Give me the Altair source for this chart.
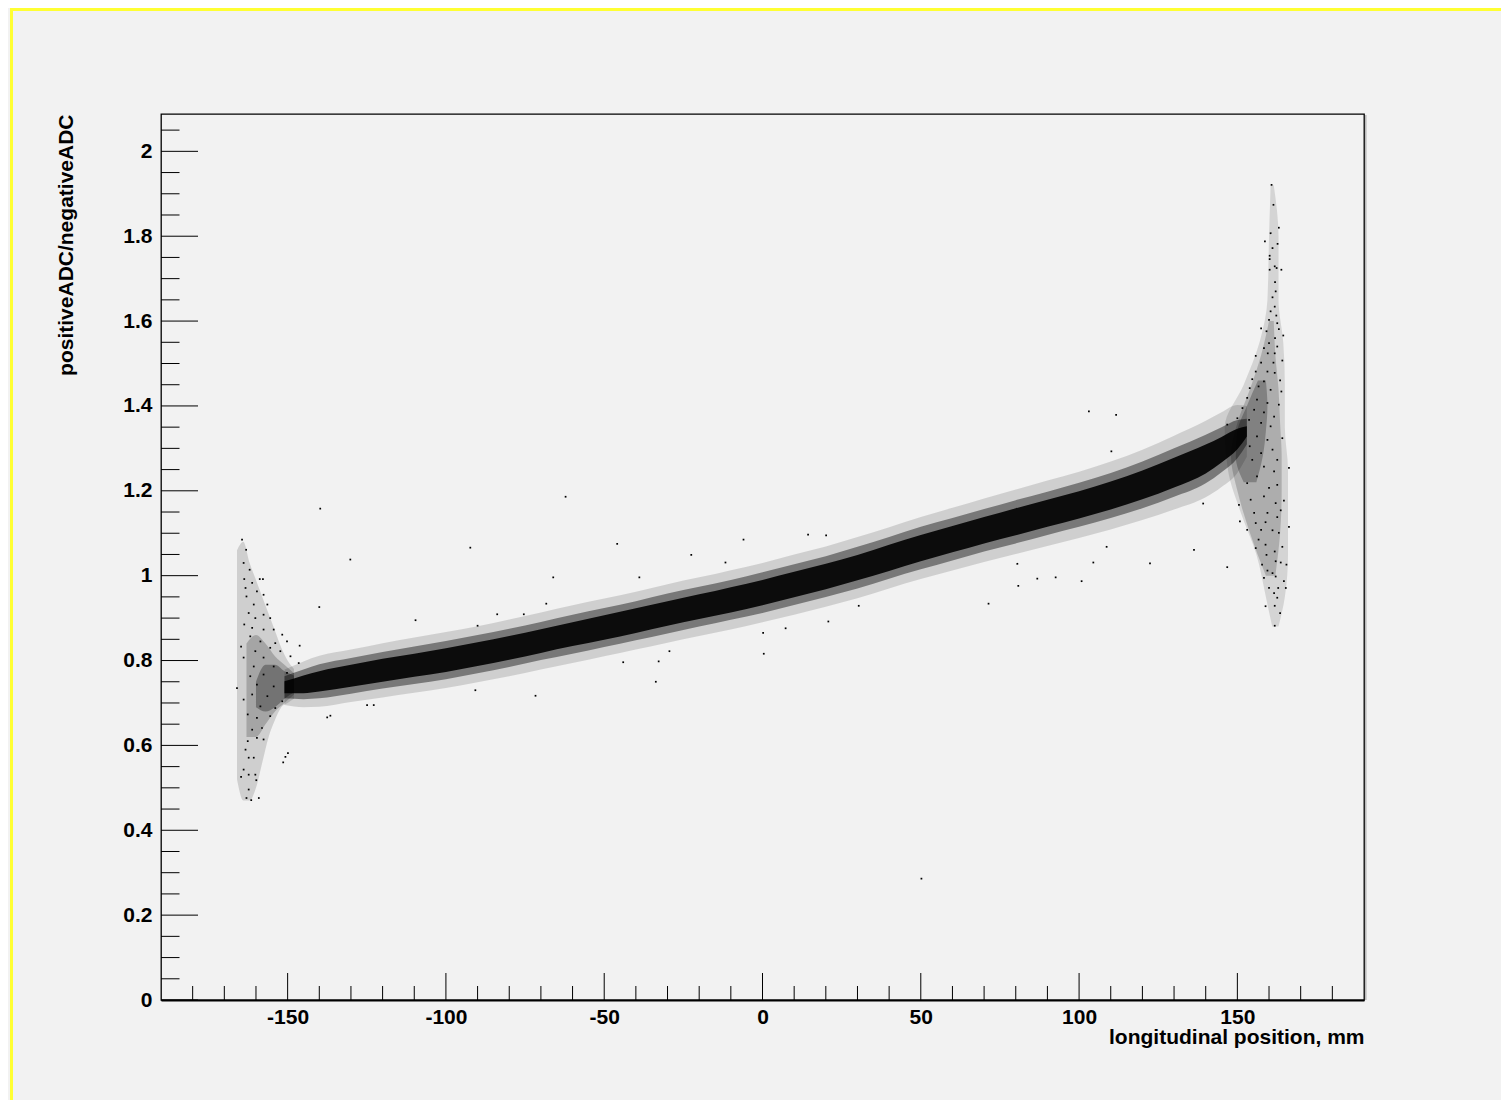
import altair as alt
import pandas as pd

# ---------------- data ----------------
# dense band: centre and half-widths (core / mid / halo) along x
band_x = [-151, -145, -140, -130, -120, -110, -100, -90, -80, -70, -60, -50, -40, -30, -20, -10,
          0, 10, 20, 30, 40, 50, 60, 70, 80, 90, 100, 110, 120, 130, 140, 145, 150, 153]
band_center = [0.737, 0.744, 0.751, 0.764, 0.777, 0.789, 0.801, 0.815, 0.830, 0.846, 0.862, 0.878,
               0.894, 0.911, 0.927, 0.943, 0.960, 0.979, 0.998, 1.019, 1.042, 1.065, 1.086, 1.107,
               1.127, 1.147, 1.167, 1.189, 1.214, 1.243, 1.275, 1.297, 1.322, 1.340]
band_core = [0.014, 0.021, 0.024, 0.026, 0.027, 0.027, 0.028, 0.028, 0.028, 0.028, 0.028, 0.029,
             0.029, 0.029, 0.029, 0.030, 0.030, 0.030, 0.030, 0.030, 0.031, 0.031, 0.031, 0.031,
             0.032, 0.032, 0.032, 0.033, 0.034, 0.035, 0.034, 0.030, 0.024, 0.012]
band_mid = [0.026, 0.035, 0.040, 0.042, 0.043, 0.044, 0.045, 0.045, 0.045, 0.045, 0.046, 0.046,
            0.046, 0.047, 0.047, 0.047, 0.048, 0.048, 0.048, 0.049, 0.049, 0.050, 0.050, 0.050,
            0.051, 0.051, 0.052, 0.053, 0.055, 0.057, 0.057, 0.053, 0.045, 0.030]
band_halo = [0.042, 0.054, 0.060, 0.062, 0.064, 0.065, 0.066, 0.066, 0.067, 0.067, 0.068, 0.068,
             0.068, 0.069, 0.069, 0.070, 0.070, 0.071, 0.071, 0.072, 0.072, 0.073, 0.074, 0.075,
             0.076, 0.077, 0.078, 0.080, 0.083, 0.087, 0.090, 0.088, 0.080, 0.060]

# left end fan (envelope along x)
lfan_x = [-166, -164, -162, -160, -158, -156, -154, -152, -150, -148]
lfan_lo = [0.52, 0.47, 0.47, 0.50, 0.56, 0.62, 0.66, 0.69, 0.70, 0.71]
lfan_hi = [1.06, 1.08, 1.03, 0.99, 0.95, 0.91, 0.87, 0.83, 0.80, 0.78]
lfan_dense_x = [-163, -160, -157, -154, -151, -148]
lfan_dense_lo = [0.62, 0.62, 0.65, 0.68, 0.70, 0.72]
lfan_dense_hi = [0.84, 0.86, 0.84, 0.81, 0.79, 0.77]
lfan_core_x = [-160, -157, -154, -151, -148]
lfan_core_lo = [0.69, 0.68, 0.69, 0.71, 0.725]
lfan_core_hi = [0.75, 0.79, 0.79, 0.775, 0.765]

# right end fan (envelope along y)
rfan_y = [0.88, 0.95, 1.05, 1.15, 1.25, 1.35, 1.45, 1.55, 1.65, 1.80, 1.92]
rfan_xlo = [161.0, 159.0, 156.0, 151.0, 147.0, 146.0, 152.0, 157.0, 159.5, 160.0, 160.5]
rfan_xhi = [163.0, 165.0, 166.0, 166.0, 166.0, 165.0, 165.0, 164.5, 163.0, 163.0, 161.5]
rfan_dense_y = [1.00, 1.10, 1.20, 1.28, 1.36, 1.44, 1.52, 1.60]
rfan_dense_xlo = [159.0, 154.0, 150.0, 148.0, 150.0, 154.0, 157.5, 160.0]
rfan_dense_xhi = [162.0, 163.5, 164.0, 164.0, 163.5, 163.0, 162.0, 161.5]
rfan_core_y = [1.22, 1.28, 1.34, 1.40, 1.46]
rfan_core_xlo = [152.0, 149.5, 150.0, 153.0, 156.5]
rfan_core_xhi = [156.0, 158.0, 159.0, 159.5, 159.0]

# individual points (outliers and sparse fan points)
out_x = [-139.7, -130.2, -140.0, -92.3, -62.2, -45.9, -22.5, -6.0, 14.4, 20.1, -11.7, -38.9, 0.4,
         7.3, 20.8, 30.4, -44.0, -32.8, 0.2, 50.2, 103.1, 111.7, 110.2, 80.5, 80.8, 86.8, 92.6,
         100.8, 104.5, 122.4, 136.3, 146.8, 139.2, 108.7, 71.4, -33.7, -71.7, -150.7, -109.6,
         -83.8, -75.4, -90.0, -90.7, -124.9, -122.8, -137.5, -136.5, -166.0, -66.1, -68.3, -29.4,
         -146.2]
out_y = [1.158, 1.038, 0.926, 1.066, 1.186, 1.075, 1.049, 1.085, 1.097, 1.095, 1.031, 0.996, 0.816,
         0.876, 0.892, 0.929, 0.796, 0.798, 0.865, 0.286, 1.387, 1.379, 1.293, 1.028, 0.976, 0.993,
         0.996, 0.987, 1.031, 1.029, 1.061, 1.020, 1.170, 1.068, 0.934, 0.750, 0.717, 0.573, 0.895,
         0.909, 0.909, 0.882, 0.730, 0.695, 0.695, 0.666, 0.670, 0.735, 0.996, 0.934, 0.822, 0.835]

lf_x = [-164.4, -163.1, -163.9, -162.0, -163.7, -158.8, -157.8, -161.2, -163.3, -159.7, -163.0,
        -157.6, -160.7, -156.4, -162.3, -157.6, -155.5, -160.2, -161.2, -157.6, -154.4, -163.7,
        -161.8, -151.7, -158.6, -153.9, -164.7, -150.2, -160.2, -155.5, -152.3, -163.9, -157.6,
        -149.1, -160.7, -154.4, -146.5, -161.8, -157.6, -150.2, -159.7, -154.4, -161.2, -156.4,
        -163.9, -151.7, -158.6, -153.9, -162.6, -159.7, -155.5, -161.2, -158.1, -162.6, -159.7,
        -157.6, -163.3, -160.7, -162.3, -163.9, -160.2, -164.7, -162.3, -159.9, -162.3, -163.0,
        -161.5, -159.1, -149.9, -151.4]
lf_y = [1.085, 1.061, 1.030, 1.014, 0.992, 0.992, 0.992, 0.983, 0.971, 0.963, 0.951, 0.955, 0.932,
        0.932, 0.912, 0.908, 0.900, 0.900, 0.877, 0.873, 0.873, 0.885, 0.857, 0.861, 0.845, 0.841,
        0.833, 0.845, 0.822, 0.830, 0.822, 0.807, 0.807, 0.810, 0.786, 0.786, 0.794, 0.763, 0.767,
        0.771, 0.743, 0.739, 0.720, 0.716, 0.708, 0.704, 0.692, 0.688, 0.673, 0.665, 0.669, 0.637,
        0.641, 0.610, 0.618, 0.614, 0.590, 0.571, 0.571, 0.543, 0.531, 0.526, 0.531, 0.518, 0.496,
        0.476, 0.471, 0.476, 0.582, 0.560]

rf_x = [160.8, 161.4, 163.1, 160.5, 158.7, 162.7, 161.1, 160.2, 160.2, 161.8, 162.4, 163.9, 160.2,
        161.9, 162.1, 161.1, 161.8, 160.5, 162.3, 160.0, 162.6, 157.5, 163.1, 159.2, 164.5, 161.9,
        160.0, 158.4, 162.6, 159.6, 161.8, 155.8, 157.5, 164.2, 161.4, 155.8, 159.5, 161.8, 154.7,
        158.4, 163.5, 153.9, 156.7, 160.5, 163.9, 153.1, 156.2, 159.5, 163.1, 151.6, 155.3, 158.4,
        161.6, 150.0, 153.7, 157.5, 160.5, 146.8, 164.2, 156.2, 159.5, 161.1, 157.5, 153.9, 162.6,
        166.3, 158.4, 154.7, 161.6, 156.2, 153.1, 160.0, 162.6,
        164.7, 162.1, 158.4, 154.2, 150.5, 163.7, 159.5, 155.3, 150.8, 162.6, 155.8, 158.9, 166.3,
        153.1, 157.5, 161.1, 163.1, 156.7, 158.9, 164.2, 155.8, 161.8, 159.2, 157.8, 162.1, 163.7,
        165.5, 159.5, 161.1, 158.4, 162.1, 164.7, 160.0, 162.9, 165.3, 161.6, 162.6, 158.9, 161.8,
        163.5, 161.8]
rf_y = [1.921, 1.874, 1.820, 1.807, 1.788, 1.782, 1.772, 1.754, 1.746, 1.729, 1.725, 1.721, 1.721,
        1.692, 1.670, 1.656, 1.634, 1.623, 1.613, 1.603, 1.595, 1.583, 1.581, 1.576, 1.566, 1.560,
        1.548, 1.536, 1.540, 1.524, 1.524, 1.518, 1.502, 1.507, 1.502, 1.481, 1.481, 1.478, 1.463,
        1.458, 1.460, 1.442, 1.446, 1.438, 1.434, 1.419, 1.415, 1.407, 1.403, 1.395, 1.391, 1.385,
        1.375, 1.371, 1.367, 1.360, 1.352, 1.356, 1.324, 1.328, 1.320, 1.297, 1.289, 1.305, 1.273,
        1.254, 1.257, 1.273, 1.246, 1.234, 1.218, 1.207, 1.214,
        1.177, 1.171, 1.187, 1.179, 1.167, 1.154, 1.148, 1.148, 1.128, 1.138, 1.124, 1.126, 1.115,
        1.108, 1.108, 1.107, 1.101, 1.085, 1.073, 1.068, 1.065, 1.057, 1.049, 1.026, 1.034, 1.031,
        1.026, 1.012, 1.006, 0.995, 0.998, 0.987, 0.971, 0.971, 0.971, 0.959, 0.948, 0.928, 0.929,
        0.912, 0.882]

# axis ticks (ROOT style, drawn inward)
x_major = [-150, -100, -50, 0, 50, 100, 150]
x_minor = [-180, -170, -160, -140, -130, -120, -110, -90, -80, -70, -60, -40, -30, -20, -10,
           10, 20, 30, 40, 60, 70, 80, 90, 110, 120, 130, 140, 160, 170, 180]
y_major = [0, 0.2, 0.4, 0.6, 0.8, 1, 1.2, 1.4, 1.6, 1.8, 2]
y_minor = [0.05, 0.1, 0.15, 0.25, 0.3, 0.35, 0.45, 0.5, 0.55, 0.65, 0.7, 0.75, 0.85, 0.9, 0.95,
           1.05, 1.1, 1.15, 1.25, 1.3, 1.35, 1.45, 1.5, 1.55, 1.65, 1.7, 1.75, 1.85, 1.9, 1.95, 2.05]

# ---------------- chart ----------------
W, H = 1203, 886
FONT = "Liberation Sans"

band = pd.DataFrame({"x": band_x, "c": band_center, "core": band_core,
                     "mid": band_mid, "halo": band_halo})
for k in ["core", "mid", "halo"]:
    band[k + "_lo"] = band["c"] - band[k]
    band[k + "_hi"] = band["c"] + band[k]

xscale = alt.Scale(domain=[-190, 190], nice=False, zero=False)
yscale = alt.Scale(domain=[0, 2.088], nice=False, zero=False)

xaxis = alt.Axis(values=x_major, labelExpr="toString(datum.value)", ticks=False, grid=False,
                 domain=True, domainColor="black", domainWidth=2,
                 labelFont=FONT, labelFontSize=21, labelFontWeight="bold", labelColor="black",
                 labelPadding=6, labelFlush=False,
                 title="longitudinal position, mm", titleFont=FONT, titleFontSize=21,
                 titleFontWeight="bold", titleColor="black", titleAnchor="end",
                 titleAlign="right", titleBaseline="alphabetic", titleX=W, titleY=43)
yaxis = alt.Axis(values=y_major, labelExpr="toString(datum.value)", ticks=False, grid=False,
                 domain=False,
                 labelFont=FONT, labelFontSize=21, labelFontWeight="bold", labelColor="black",
                 labelPadding=9, labelFlush=False,
                 title="positiveADC/negativeADC", titleFont=FONT, titleFontSize=21,
                 titleFontWeight="bold", titleColor="black", titleAngle=270,
                 titleAlign="right", titleBaseline="alphabetic", titleX=-89, titleY=0)


def X(f):
    return alt.X(f, type="quantitative", scale=xscale, axis=xaxis)


def Y(f):
    return alt.Y(f, type="quantitative", scale=yscale, axis=yaxis)


def band_layer(k, op):
    return alt.Chart(band).mark_area(color="black", opacity=op, interpolate="monotone").encode(
        x=X("x"), y=Y(k + "_lo"), y2=k + "_hi")


def vfan(xs, lo, hi, op):
    df = pd.DataFrame({"x": xs, "lo": lo, "hi": hi})
    return alt.Chart(df).mark_area(color="black", opacity=op, interpolate="monotone").encode(
        x=X("x"), y=Y("lo"), y2="hi")


def hfan(ys, xlo, xhi, op):
    df = pd.DataFrame({"y": ys, "xlo": xlo, "xhi": xhi})
    return alt.Chart(df).mark_area(color="black", opacity=op, orient="horizontal",
                                   interpolate="monotone").encode(
        y=Y("y"), x=X("xlo"), x2="xhi")


pts = pd.DataFrame({"x": out_x + lf_x + rf_x, "y": out_y + lf_y + rf_y})
pts_layer = alt.Chart(pts).mark_square(size=3, color="black", opacity=1).encode(
    x=X("x"), y=Y("y"))

tick_style = dict(color="black", strokeWidth=1)
ymaj = alt.Chart(pd.DataFrame({"v": y_major})).mark_rule(**tick_style).encode(
    y=Y("v"), x=alt.value(0), x2=alt.value(37))
ymin = alt.Chart(pd.DataFrame({"v": y_minor})).mark_rule(**tick_style).encode(
    y=Y("v"), x=alt.value(0), x2=alt.value(18.5))
xmaj = alt.Chart(pd.DataFrame({"v": x_major})).mark_rule(**tick_style).encode(
    x=X("v"), y=alt.value(H), y2=alt.value(H - 27))
xmin = alt.Chart(pd.DataFrame({"v": x_minor})).mark_rule(**tick_style).encode(
    x=X("v"), y=alt.value(H), y2=alt.value(H - 14))

# canvas decorations: yellow frame and frame shadow
frame_df = pd.DataFrame({"v": [0]})
yellow_left = alt.Chart(frame_df).mark_rule(color="#ffff33", strokeWidth=3).encode(
    x=alt.value(-149.5), y=alt.value(-106), y2=alt.value(H + 100))
yellow_top = alt.Chart(frame_df).mark_rule(color="#ffff33", strokeWidth=3).encode(
    y=alt.value(-104.5), x=alt.value(-151), x2=alt.value(W + 137))
shadow = alt.Chart(frame_df).mark_rule(color="#b8b8b8", strokeWidth=1.5).encode(
    x=alt.value(W + 1.8), y=alt.value(1), y2=alt.value(H))

chart = alt.layer(
    band_layer("halo", 0.14), band_layer("mid", 0.42), band_layer("core", 0.9),
    vfan(lfan_x, lfan_lo, lfan_hi, 0.14),
    vfan(lfan_dense_x, lfan_dense_lo, lfan_dense_hi, 0.2),
    vfan(lfan_core_x, lfan_core_lo, lfan_core_hi, 0.3),
    hfan(rfan_y, rfan_xlo, rfan_xhi, 0.12),
    hfan(rfan_dense_y, rfan_dense_xlo, rfan_dense_xhi, 0.18),
    hfan(rfan_core_y, rfan_core_xlo, rfan_core_xhi, 0.25),
    pts_layer,
    ymaj, ymin, xmaj, xmin, yellow_left, yellow_top, shadow
).properties(
    width=W, height=H,
    autosize=alt.AutoSizeParams(type="none"),
    padding={"left": 153, "top": 106, "right": 137, "bottom": 100},
    background="#f2f2f2",
).configure_view(stroke="black", strokeWidth=1.3)

chart.save("out.html", embed_options={"renderer": "svg", "actions": False})
